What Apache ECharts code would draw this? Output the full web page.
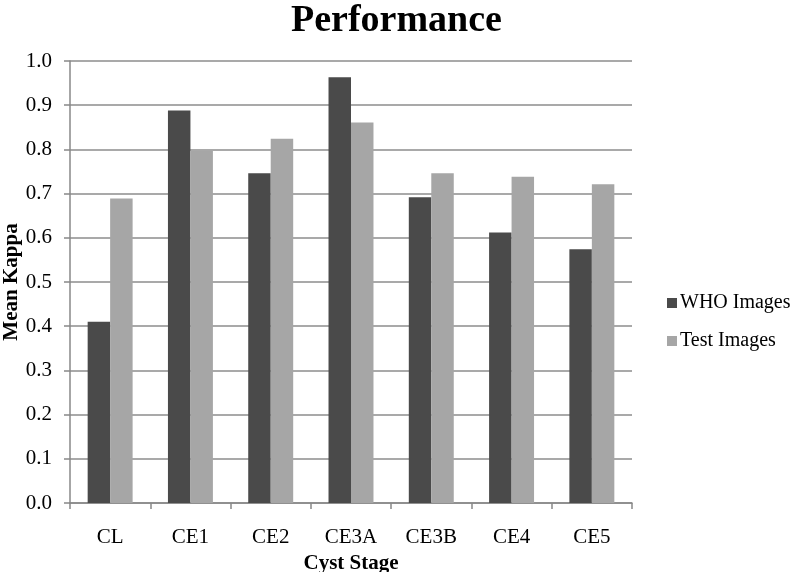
<!DOCTYPE html>
<html>
<head>
<meta charset="utf-8">
<script src="https://cdn.jsdelivr.net/npm/echarts@6/dist/echarts.min.js"></script>
<style>
  html, body { margin: 0; padding: 0; background: #fff; }
  #chart { width: 800px; height: 572px; }
</style>
</head>
<body>
<div id="chart"></div>
<script>
// data
var stages = ['CL', 'CE1', 'CE2', 'CE3A', 'CE3B', 'CE4', 'CE5']
var whoImages = [0.41, 0.888, 0.746, 0.963, 0.692, 0.612, 0.574]
var testImages = [0.689, 0.797, 0.824, 0.861, 0.746, 0.738, 0.721]
var yTicks = [0, 0.1, 0.2, 0.3, 0.4, 0.5, 0.6, 0.7, 0.8, 0.9, 1.0]

var serif = '"Liberation Serif", "Times New Roman", serif'
var chart = echarts.init(document.getElementById('chart'))

chart.setOption({
    animation: false,
    textStyle: { fontFamily: serif },
    title: {
        text: 'Performance',
        left: 286,
        top: -3,
        textStyle: { fontFamily: serif, fontSize: 38, fontWeight: 'bold', color: '#000' }
    },
    legend: {
        orient: 'vertical',
        left: 662,
        top: 288,
        itemWidth: 10,
        itemHeight: 10,
        itemGap: 18,
        icon: 'rect',
        textStyle: { fontFamily: serif, fontSize: 20, color: '#000', padding: [0, 0, 0, -2] },
        data: ['WHO Images', 'Test Images']
    },
    // y axis title placed by hand, the axis name kept getting pushed off the edge
    graphic: [{
        type: 'text',
        x: 12,
        y: 282,
        rotation: Math.PI / 2,
        style: {
            text: 'Mean Kappa',
            font: 'bold 21px ' + serif,
            fill: '#000',
            align: 'center',
            verticalAlign: 'middle'
        }
    }],
    grid: {
        left: 70,
        right: 168,
        top: 61,
        bottom: 69,
        outerBoundsMode: 'none',
        containLabel: false
    },
    xAxis: {
        type: 'category',
        data: stages,
        name: 'Cyst Stage',
        nameLocation: 'middle',
        nameGap: 46,
        nameTextStyle: { fontFamily: serif, fontSize: 21, fontWeight: 'bold', color: '#000' },
        axisLine: { lineStyle: { color: '#888', width: 1.5 } },
        axisTick: { show: true, length: 6, lineStyle: { color: '#888', width: 1.5 } },
        axisLabel: { fontFamily: serif, fontSize: 21, color: '#000', margin: 24 }
    },
    yAxis: {
        type: 'value',
        min: 0,
        max: 1,
        interval: 0.1,
        axisLine: { show: true, lineStyle: { color: '#888', width: 1.5 } },
        axisTick: { show: true, length: 6, lineStyle: { color: '#888', width: 1.5 } },
        axisLabel: {
            fontFamily: serif, fontSize: 21, color: '#000', margin: 18,
            formatter: function (v) {
                var t = yTicks.find(function (x) { return Math.abs(x - v) < 1e-9 })
                return (t === undefined ? v : t).toFixed(1)
            }
        },
        splitLine: { lineStyle: { color: '#8c8c8c', width: 1.5 } }
    },
    series: [
        {
            name: 'WHO Images',
            type: 'bar',
            data: whoImages,
            barWidth: '28%',
            barGap: '0%',
            itemStyle: { color: '#4a4a4a' }
        },
        {
            name: 'Test Images',
            type: 'bar',
            data: testImages,
            barWidth: '28%',
            itemStyle: { color: '#a6a6a6' }
        }
    ]
})
</script>
</body>
</html>
